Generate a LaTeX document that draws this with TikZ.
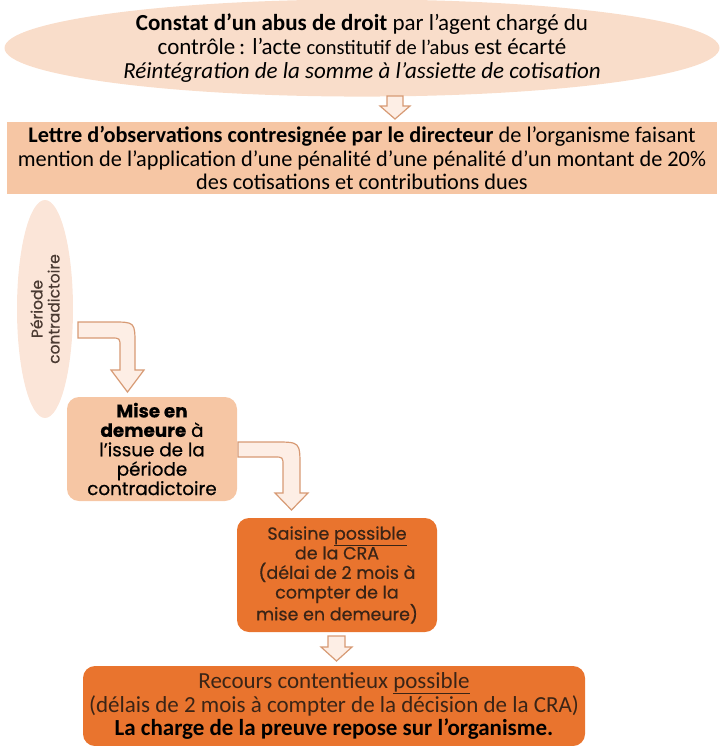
\documentclass[tikz,border=0pt]{standalone}
\usepackage{fontspec}
\setmainfont{Carlito}
\newfontfamily\geofont[FakeBold=0.5]{Poppins}
\usetikzlibrary{shapes.geometric}

\definecolor{paleA}{HTML}{F9DDCA}
\definecolor{peach}{HTML}{F6C6A4}
\definecolor{paleB}{HTML}{FBE5D8}
\definecolor{orangebox}{HTML}{E9742E}
\definecolor{arrowfill}{HTML}{FDEEE5}
\definecolor{arrowline}{HTML}{D79A74}
\definecolor{darktext}{HTML}{3A2416}
\definecolor{greytext}{HTML}{4A3A32}

\tikzset{
  calib/.style={font=\fontsize{23}{24}\selectfont, align=center},
  geo/.style={font=\geofont\fontsize{17.5}{19.6}\selectfont, align=center},
  blockarrow/.style={fill=arrowfill, draw=arrowline, line width=1.2pt, line join=miter},
  roundbox/.style={rectangle, rounded corners=12pt, inner sep=0pt},
}

\begin{document}
\begin{tikzpicture}[x=1pt, y=-1pt]
  \useasboundingbox (0,0) rectangle (724,746);

  % finding of the abuse
  \node[ellipse, fill=paleA, minimum width=715pt, minimum height=86pt, inner sep=0pt, calib]
    (constat) at (362,48)
    {\textbf{Constat d’un abus de droit} par l’agent chargé du\\
     contrôle\,: l’acte {\fontsize{20.5}{24}\selectfont constitutif de l’abus} est écarté\\
     \textit{Réintégration de la somme à l’assiette de cotisation}};

  % letter of observations
  \node[rectangle, fill=peach, minimum width=710pt, minimum height=72pt, inner sep=0pt, calib,
        font=\fontsize{22.3}{23.3}\selectfont]
    (lettre) at (362,158)
    {\textbf{Lettre d’observations contresignée par le directeur} de l’organisme faisant\\
     mention de l’application d’une pénalité d’une pénalité d’un montant de 20\%\\
     des cotisations et contributions dues};

  % adversarial period
  \node[ellipse, fill=paleB, minimum width=56pt, minimum height=218pt, inner sep=0pt]
    (periode) at (45,309) {};
  \node[rotate=90, align=center, font=\geofont\fontsize{15.5}{17}\selectfont, text=greytext]
    (periodetxt) at (periode.center) {Période\\contradictoire};

  % formal notice
  \node[roundbox, fill=peach, minimum width=170pt, minimum height=104pt, geo,
        font=\geofont\fontsize{18.3}{19.4}\selectfont]
    (demeure) at (152,449)
    {\textbf{Mise en}\\ \textbf{demeure} à\\ l’issue de la\\ période\\ contradictoire};

  % referral to the CRA
  \node[roundbox, fill=orangebox, minimum width=200pt, minimum height=114pt, geo, text=darktext]
    (saisine) at (337,575)
    {Saisine \underline{possible}\\ de la CRA\\ (délai de 2 mois à\\ compter de la\\ mise en demeure)};

  % litigation
  \node[roundbox, fill=orangebox, minimum width=502pt, minimum height=80pt, calib,
        font=\fontsize{23}{23.5}\selectfont, text=darktext]
    (recours) at (334,706)
    {Recours contentieux \underline{possible}\\
     (délais de 2 mois à compter de la décision de la CRA)\\
     {\color{black}\textbf{La charge de la preuve repose sur l’organisme.}}};

  % straight block arrows
  \draw[blockarrow] (387,96) -- (403,96) -- (403,106) -- (410,106) -- (395,119)
    -- (380,106) -- (387,106) -- cycle;
  \draw[blockarrow] (328,636) -- (345,636) -- (345,647) -- (352,647) -- (336.5,661)
    -- (321,647) -- (328,647) -- cycle;

  % bent block arrows
  \draw[blockarrow] (78,322) -- (112,322) .. controls (135,322) .. (135,345)
    -- (135,370) -- (144,370) -- (127.5,392) -- (111,370) -- (120,370)
    -- (120,347) .. controls (120,338) .. (111,338) -- (78,338) -- cycle;
  \draw[blockarrow] (238,442) -- (275,442) .. controls (300,442) .. (300,467)
    -- (300,493) -- (308,493) -- (291.5,510) -- (275,493) -- (283,493)
    -- (283,466) .. controls (283,457) .. (274,457) -- (238,457) -- cycle;
\end{tikzpicture}
\end{document}
